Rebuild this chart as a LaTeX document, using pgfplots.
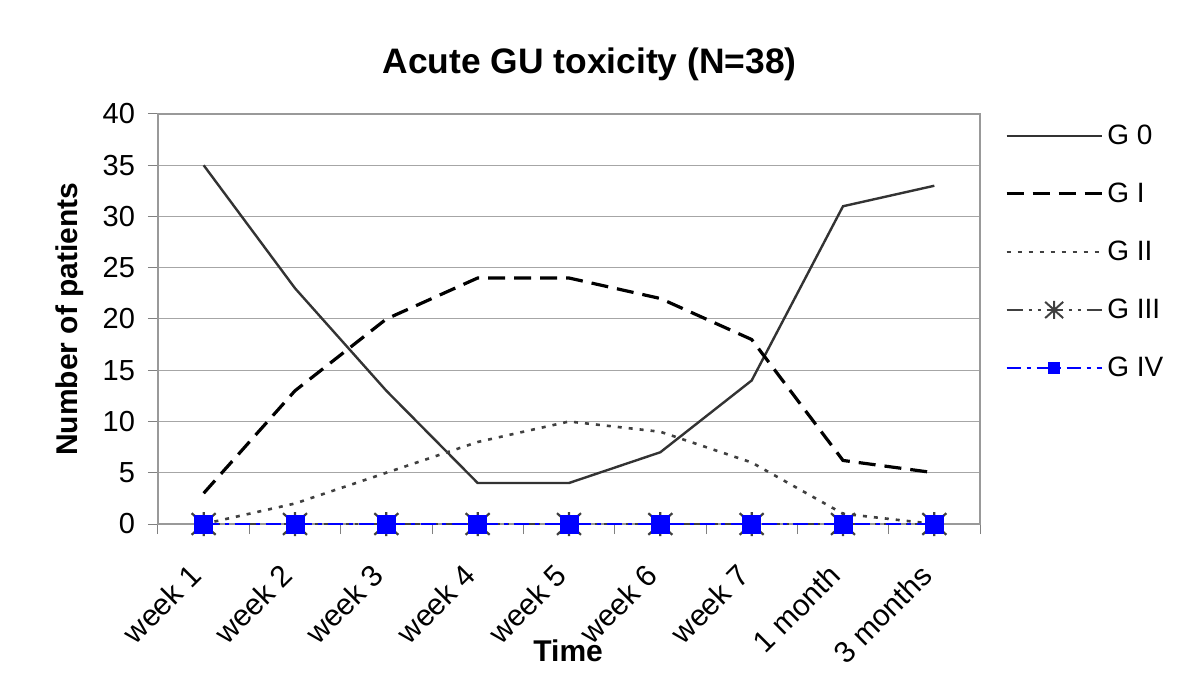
\documentclass[border=0pt]{standalone}
\usepackage{fontspec}
\setmainfont{Liberation Sans}
\usepackage{pgfplots}
\pgfplotsset{compat=1.18}
\usetikzlibrary{plotmarks}
\pgfdeclareplotmark{xast}{%
  \pgfpathmoveto{\pgfqpoint{0pt}{\pgfplotmarksize}}%
  \pgfpathlineto{\pgfqpoint{0pt}{-\pgfplotmarksize}}%
  \pgfpathmoveto{\pgfqpoint{-\pgfplotmarksize}{0.9\pgfplotmarksize}}%
  \pgfpathlineto{\pgfqpoint{\pgfplotmarksize}{-0.9\pgfplotmarksize}}%
  \pgfpathmoveto{\pgfqpoint{-\pgfplotmarksize}{-0.9\pgfplotmarksize}}%
  \pgfpathlineto{\pgfqpoint{\pgfplotmarksize}{0.9\pgfplotmarksize}}%
  \pgfusepathqstroke}
\begin{document}
\begin{tikzpicture}
\path[use as bounding box] (0,0) rectangle (600pt,343pt);
\begin{axis}[
  at={(79pt,81pt)}, anchor=south west,
  scale only axis, width=411pt, height=205pt,
  xmin=-0.5, xmax=8.5, ymin=0, ymax=40,
  ytick={0,5,...,40},
  xtick={0,...,8},
  xticklabels={week 1,week 2,week 3,week 4,week 5,week 6,week 7,1 month,3 months},
  x tick label style={xshift=-8pt, yshift=-14pt, rotate=45, anchor=north east, inner sep=0pt, font=\fontsize{15}{18}\selectfont},
  y tick label style={xshift=-3pt, font=\fontsize{14.5}{17}\selectfont},
  major x tick style={draw=none},
  minor xtick={-0.5,0.5,...,8.5},
  tick align=outside, major tick length=5pt, minor tick length=5pt,
  tick pos=left,
  tick style={gray, line width=0.5pt},
  ymajorgrids, grid style={gray!70, line width=0.5pt},
  axis line style={gray!80, line width=0.6pt},
  /pgf/number format/assume math mode=true,
  ylabel={Number of patients},
  ylabel style={at={(axis description cs:-0.107,0.5)}, anchor=center, font=\bfseries\fontsize{15}{18}\selectfont},
  xlabel={Time},
  xlabel style={at={(axis description cs:0.499,-0.31)}, anchor=center, font=\bfseries\fontsize{15}{18}\selectfont},
  title={Acute GU toxicity (N=38)},
  title style={at={(axis description cs:0.525,1.093)}, anchor=center, font=\bfseries\fontsize{17.7}{20}\selectfont},
  legend image code/.code={\draw[mark repeat=2,mark phase=2,#1] plot coordinates {(0pt,0pt) (23.75pt,0pt) (47.5pt,0pt)};},
  legend style={at={(axis description cs:1.03,0.985)}, anchor=north west, draw=none, fill=none,
    font=\fontsize{14}{16}\selectfont, row sep=13.75pt, inner sep=0pt},
  legend cell align=left,
]
\addplot[forget plot, black!80, line width=1.2pt] coordinates {(0,35) (1,23) (2,13) (3,4) (4,4) (5,7) (6,14) (7,31) (8,33)};
\addplot[forget plot, black, line width=1.6pt, dash pattern=on 8.5pt off 4.5pt] coordinates {(0,3) (1,13) (2,20) (3,24) (4,24) (5,22) (6,18) (7,6.2) (8,5)};
\addplot[forget plot, black!75, line width=1.3pt, dash pattern=on 2pt off 3.5pt] coordinates {(0,0) (1,2) (2,5) (3,8) (4,10) (5,9) (6,6) (7,1) (8,0)};
\addplot[forget plot, black!75, line width=1.3pt, dash pattern=on 8pt off 3pt on 1.5pt off 3pt on 1.5pt off 3pt, mark=xast, mark size=6pt, mark options={solid, line width=1.1pt, black!75}] coordinates {(0,0) (1,0) (2,0) (3,0) (4,0) (5,0) (6,0) (7,0) (8,0)};
\addplot[forget plot, blue, line width=1.5pt, dash pattern=on 7.5pt off 3pt on 2pt off 3pt, mark=square*, mark size=4pt, mark options={solid, blue}] coordinates {(0,0) (1,0) (2,0) (3,0) (4,0) (5,0) (6,0) (7,0) (8,0)};
\addlegendimage{black!80, line width=1.2pt}
\addlegendentry{G 0}
\addlegendimage{black, line width=1.6pt, dash pattern=on 8.5pt off 4.5pt}
\addlegendentry{G I}
\addlegendimage{black!75, line width=1.3pt, dash pattern=on 2pt off 3.5pt}
\addlegendentry{G II}
\addlegendimage{black!75, line width=1.3pt, dash pattern=on 8pt off 3pt on 1.5pt off 3pt on 1.5pt off 3pt, mark=xast, mark size=4.5pt, mark options={solid, line width=1pt, black!75}}
\addlegendentry{G III}
\addlegendimage{blue, line width=1.3pt, dash pattern=on 7pt off 3pt on 2pt off 3pt, mark=square*, mark size=2.5pt, mark options={solid, blue}}
\addlegendentry{G IV}
\end{axis}
\end{tikzpicture}
\end{document}
